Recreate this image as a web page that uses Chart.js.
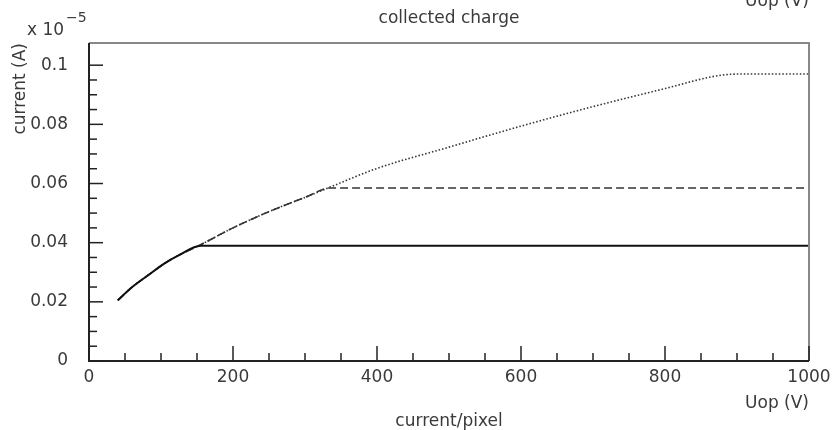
<!DOCTYPE html>
<html>
<head>
<meta charset="utf-8">
<script src="https://cdn.jsdelivr.net/npm/chart.js@4/dist/chart.umd.min.js"></script>
<style>
  body { margin: 0; background: #fff; }
  canvas { display: block; }
</style>
</head>
<body>
<canvas id="chargeChart" width="834" height="430"></canvas>
<script>
// operating voltage (V)
const voltage = [40, 60, 85, 105, 125, 155, 200, 250, 300, 335, 400, 500, 600, 700, 800, 870, 900, 1000];
// current in units of 1e-5 A, one curve per saturation level
const currentLow  = [0.0205, 0.025, 0.0295, 0.033, 0.0358, 0.039, 0.039, 0.039, 0.039, 0.039, 0.039, 0.039, 0.039, 0.039, 0.039, 0.039, 0.039, 0.039];
const currentMid  = [0.0205, 0.025, 0.0295, 0.033, 0.0358, 0.0393, 0.045, 0.0505, 0.0553, 0.0585, 0.0585, 0.0585, 0.0585, 0.0585, 0.0585, 0.0585, 0.0585, 0.0585];
const currentHigh = [0.0205, 0.025, 0.0295, 0.033, 0.0358, 0.0393, 0.045, 0.0505, 0.0553, 0.0588, 0.0651, 0.0723, 0.0794, 0.086, 0.0921, 0.0963, 0.097, 0.097];

const xMajor = 200;
const yMajor = 0.02;

const FONT = 'DejaVu Sans';
const TEXT = '#3a3a3a';

function pts(ys) {
  return voltage.map((v, i) => ({ x: v, y: ys[i] }));
}

function isMultiple(v, step) {
  const r = v / step;
  return Math.abs(r - Math.round(r)) < 1e-6;
}

// frame, inward tick marks and the loose labels
const framePlugin = {
  id: 'frame',
  afterDraw(chart) {
    const { ctx, chartArea: a, scales: { x, y } } = chart;
    ctx.save();

    // top / right border
    ctx.strokeStyle = '#888';
    ctx.lineWidth = 2;
    ctx.beginPath();
    ctx.moveTo(a.left, a.top);
    ctx.lineTo(a.right, a.top);
    ctx.lineTo(a.right, a.bottom);
    ctx.stroke();

    // left / bottom axes
    ctx.strokeStyle = '#222';
    ctx.beginPath();
    ctx.moveTo(a.left, a.top);
    ctx.lineTo(a.left, a.bottom);
    ctx.lineTo(a.right, a.bottom);
    ctx.stroke();

    ctx.lineWidth = 1.5;
    x.ticks.forEach(t => {
      if (!isMultiple(t.value, 50)) return;
      const px = x.getPixelForValue(t.value);
      const len = isMultiple(t.value, xMajor) ? 15 : 8;
      ctx.beginPath();
      ctx.moveTo(px, a.bottom);
      ctx.lineTo(px, a.bottom - len);
      ctx.stroke();
    });
    y.ticks.forEach(t => {
      if (!isMultiple(t.value, 0.005)) return;
      const py = y.getPixelForValue(t.value);
      const len = isMultiple(t.value, yMajor) ? 14 : 8;
      ctx.beginPath();
      ctx.moveTo(a.left, py);
      ctx.lineTo(a.left + len, py);
      ctx.stroke();
    });

    ctx.fillStyle = TEXT;
    ctx.font = '17px "' + FONT + '"';
    ctx.textBaseline = 'alphabetic';

    ctx.textAlign = 'center';
    ctx.fillText('collected charge', (a.left + a.right) / 2, 23);

    ctx.textAlign = 'right';
    ctx.fillText('Uop (V)', a.right, 408);
    ctx.fillText('Uop (V)', a.right, 6);

    ctx.textAlign = 'left';
    ctx.fillText('x 10', 27, 35);
    ctx.font = '14px "' + FONT + '"';
    ctx.fillText('\u22125', 66, 22);

    ctx.restore();
  }
};

new Chart(document.getElementById('chargeChart').getContext('2d'), {
  type: 'line',
  data: {
    datasets: [
      {
        label: 'low',
        data: pts(currentLow),
        borderColor: '#111',
        borderWidth: 2
      },
      {
        label: 'mid',
        data: pts(currentMid),
        borderColor: '#333',
        borderWidth: 1.6,
        borderDash: [8, 4]
      },
      {
        label: 'high',
        data: pts(currentHigh),
        borderColor: '#333',
        borderWidth: 1.6,
        borderDash: [1.5, 2]
      }
    ]
  },
  options: {
    responsive: false,
    animation: false,
    layout: { padding: { left: 0, right: 25, top: 43, bottom: 0 } },
    elements: { point: { radius: 0 }, line: { cubicInterpolationMode: 'monotone' } },
    plugins: {
      legend: { display: false },
      tooltip: { enabled: false }
    },
    scales: {
      x: {
        type: 'linear',
        min: 0,
        max: 1000,
        grid: { display: false, drawTicks: false },
        border: { display: false },
        ticks: {
          stepSize: 50,
          autoSkip: false,
          maxRotation: 0,
          padding: 6,
          color: TEXT,
          font: { family: FONT, size: 17 },
          callback: v => isMultiple(v, xMajor) ? String(v) : ''
        },
        title: {
          display: true,
          text: 'current/pixel',
          color: TEXT,
          font: { family: FONT, size: 17, lineHeight: 1 },
          padding: { top: 0, bottom: 0 }
        },
        afterFit: s => { s.height = 69; s.paddingLeft = 0; s.paddingRight = 0; }
      },
      y: {
        min: 0,
        max: 0.1075,
        grid: { display: false, drawTicks: false },
        border: { display: false },
        ticks: {
          stepSize: 0.005,
          autoSkip: false,
          padding: 21,
          color: TEXT,
          font: { family: FONT, size: 17 },
          callback: v => {
            if (!isMultiple(v, yMajor)) return '';
            return v === 0 ? '0' : String(parseFloat(v.toFixed(3)));
          }
        },
        title: {
          display: true,
          text: 'current (A)',
          align: 'end',
          color: TEXT,
          font: { family: FONT, size: 17, lineHeight: 1 },
          padding: { top: 12, bottom: 0 }
        },
        afterFit: s => { s.width = 89; s.paddingTop = 0; s.paddingBottom = 0; }
      }
    }
  },
  plugins: [framePlugin]
});
</script>
</body>
</html>
